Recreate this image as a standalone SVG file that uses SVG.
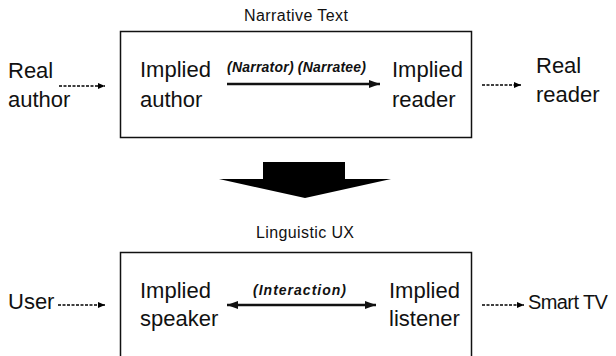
<svg xmlns="http://www.w3.org/2000/svg" width="616" height="356" viewBox="0 0 616 356">
<style>
text{font-family:"Liberation Sans",Arial,sans-serif;fill:#111}
.big{font-size:22px}
.small{font-size:16px}
.lab{font-size:14px;font-weight:bold;font-style:italic}
.box{fill:#fff;stroke:#111;stroke-width:1.5}
.dash{stroke:#000;stroke-width:1.3;stroke-dasharray:3 1.5;fill:none}
.solid{stroke:#111;stroke-width:2.5;fill:none}
</style>
<defs>
<marker id="ah" markerUnits="userSpaceOnUse" markerWidth="8" markerHeight="8" refX="7" refY="4" orient="auto">
<path d="M0,1 L7,4 L0,7 Z" fill="#000"/>
</marker>
<marker id="bh" markerUnits="userSpaceOnUse" markerWidth="12" markerHeight="10" refX="11" refY="5" orient="auto-start-reverse">
<path d="M0,1 L11,5 L0,9 Z" fill="#111"/>
</marker>
</defs>
<rect width="616" height="356" fill="#fff"/>

<g id="narrative-text">
<text class="small" x="296" y="21" text-anchor="middle" textLength="104">Narrative Text</text>
<rect class="box" x="120.5" y="31.5" width="351" height="106"/>
</g>
<g id="real-author">
<text class="big" x="8" y="78">Real</text>
<text class="big" x="8" y="107">author</text>
</g>
<g id="implied-author">
<text class="big" x="140" y="77">Implied</text>
<text class="big" x="140" y="107">author</text>
</g>
<g id="implied-reader">
<text class="big" x="392" y="77">Implied</text>
<text class="big" x="392" y="107">reader</text>
</g>
<g id="real-reader">
<text class="big" x="536" y="73">Real</text>
<text class="big" x="536" y="102">reader</text>
</g>

<g id="transform-arrow">
<polygon points="263,162 345,162 345,179 391,179 305,198 219,179 263,179" fill="#000"/>
</g>

<g id="linguistic-ux">
<text class="small" x="305" y="238" text-anchor="middle" textLength="98">Linguistic UX</text>
<rect class="box" x="120.5" y="252.5" width="351" height="110"/>
</g>
<g id="user">
<text class="big" x="8" y="309">User</text>
</g>
<g id="implied-speaker">
<text class="big" x="140" y="298">Implied</text>
<text class="big" x="140" y="326">speaker</text>
</g>
<g id="implied-listener">
<text class="big" x="389" y="298">Implied</text>
<text class="big" x="389" y="326">listener</text>
</g>
<g id="smart-tv">
<text x="528" y="309" style="font-size:20px;letter-spacing:-0.6px">Smart TV</text>
</g>

<g id="connectors">
<line class="dash" x1="59" y1="86" x2="105" y2="86" marker-end="url(#ah)"/>
<line class="dash" x1="482" y1="85" x2="521" y2="85" marker-end="url(#ah)"/>
<line class="solid" x1="227" y1="84" x2="380" y2="84" marker-end="url(#bh)"/>
<text class="lab" x="227" y="72" textLength="139">(Narrator) (Narratee)</text>
<line class="dash" x1="58" y1="305" x2="105" y2="305" marker-end="url(#ah)"/>
<line class="dash" x1="482" y1="305" x2="524" y2="305" marker-end="url(#ah)"/>
<line class="solid" x1="227" y1="305" x2="376" y2="305" marker-start="url(#bh)" marker-end="url(#bh)"/>
<text class="lab" x="253" y="295" textLength="93">(Interaction)</text>
</g>
</svg>
